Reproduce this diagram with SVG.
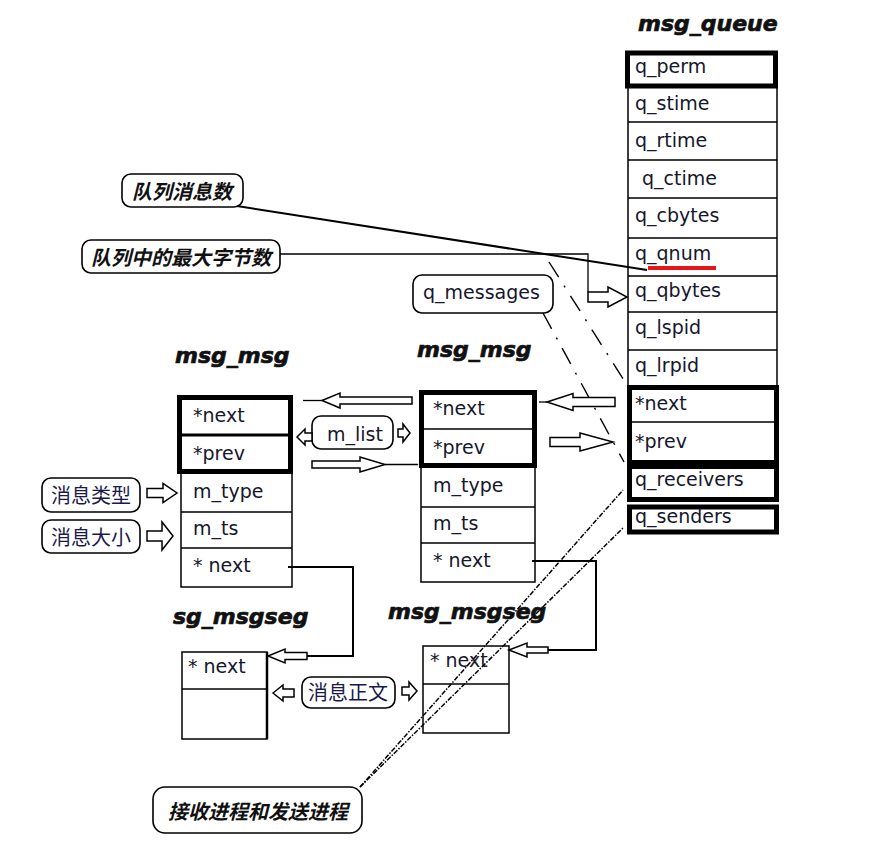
<svg xmlns="http://www.w3.org/2000/svg" width="878" height="860" viewBox="0 0 878 860">
<style>
.t{font-family:"DejaVu Sans",sans-serif;font-size:19px;fill:#16162c}
.ttl{font-family:"DejaVu Sans",sans-serif;font-size:22px;font-weight:bold;font-style:italic;fill:#111;stroke:#111;stroke-width:0.7}
.cn{font-family:"Noto Sans CJK SC",sans-serif;font-size:20px;fill:#1a1a48;text-anchor:middle}
.cni{font-family:"Noto Sans CJK SC",sans-serif;font-size:20px;font-style:italic;font-weight:bold;fill:#111;text-anchor:middle}
.thin{fill:#fff;stroke:#000;stroke-width:1.5}
.row{fill:none;stroke:#000;stroke-width:1.3}
.thick{fill:none;stroke:#000;stroke-width:5}
.call{fill:#fff;stroke:#000;stroke-width:1.6}
.arr{fill:#fff;stroke:#000;stroke-width:1.5}
.ln{fill:none;stroke:#000;stroke-width:2}
.ln1{fill:none;stroke:#000;stroke-width:1.3}
.dash{fill:none;stroke:#000;stroke-width:1.4;stroke-dasharray:18 10 2 10}
.chain{fill:none;stroke:#000;stroke-width:1.5;stroke-dasharray:5 1.5 1.5 1.5}
</style>
<rect width="878" height="860" fill="#fff"/>

<g id="msg_queue">
  <text class="ttl" x="638" y="31">msg_queue</text>
  <rect class="thin" x="628" y="86" width="149" height="300"/>
  <path class="row" d="M628 122H777M628 160H777M628 198H777M628 238H777M628 276H777M628 312H777M628 350H777"/>
  <rect class="thick" x="627.5" y="53" width="148" height="33"/>
  <rect x="648" y="266" width="68" height="4" fill="#e8141c"/>
  <rect class="thick" x="629.5" y="387.5" width="147" height="75"/>
  <line x1="629" y1="422" x2="777" y2="422" stroke="#000" stroke-width="1.5"/>
  <rect class="thick" x="629.5" y="466.5" width="147" height="33"/>
  <rect class="thick" x="629.5" y="507" width="147" height="25"/>
  <text class="t" x="635" y="73">q_perm</text>
  <text class="t" x="635" y="110">q_stime</text>
  <text class="t" x="635" y="147">q_rtime</text>
  <text class="t" x="642" y="185">q_ctime</text>
  <text class="t" x="635" y="222">q_cbytes</text>
  <text class="t" x="635" y="260">q_qnum</text>
  <text class="t" x="635" y="297">q_qbytes</text>
  <text class="t" x="635" y="334">q_lspid</text>
  <text class="t" x="635" y="372">q_lrpid</text>
  <text class="t" x="635" y="410">*next</text>
  <text class="t" x="635" y="448">*prev</text>
  <text class="t" x="635" y="486">q_receivers</text>
  <text class="t" x="635" y="523">q_senders</text>
</g>

<g id="msg_msg_1">
  <text class="ttl" x="175" y="363">msg_msg</text>
  <rect class="thin" x="181" y="473" width="111" height="114"/>
  <path class="row" d="M181 512H292M181 548H292"/>
  <rect class="thick" x="179.5" y="397.5" width="111" height="74"/>
  <line x1="179" y1="435" x2="291" y2="435" stroke="#000" stroke-width="3"/>
  <text class="t" x="193" y="422">*next</text>
  <text class="t" x="193" y="460">*prev</text>
  <text class="t" x="193" y="498">m_type</text>
  <text class="t" x="193" y="535">m_ts</text>
  <text class="t" x="193" y="572">* next</text>
</g>

<g id="msg_msg_2">
  <text class="ttl" x="417" y="357">msg_msg</text>
  <rect class="thin" x="421" y="467" width="114" height="115"/>
  <path class="row" d="M421 507H535M421 543H535"/>
  <rect class="thick" x="421.5" y="392.5" width="113" height="73"/>
  <line x1="421" y1="429" x2="535" y2="429" stroke="#000" stroke-width="1.5"/>
  <text class="t" x="433" y="415">*next</text>
  <text class="t" x="433" y="454">*prev</text>
  <text class="t" x="433" y="492">m_type</text>
  <text class="t" x="433" y="530">m_ts</text>
  <text class="t" x="433" y="567">* next</text>
</g>

<g id="sg_msgseg">
  <text class="ttl" x="173" y="624">sg_msgseg</text>
  <rect class="thin" x="182" y="652" width="85" height="87"/>
  <line x1="182" y1="689" x2="267" y2="689" stroke="#000" stroke-width="1.3"/>
  <line x1="267" y1="652" x2="267" y2="739" stroke="#000" stroke-width="2.5"/>
  <text class="t" x="188" y="673">* next</text>
</g>

<g id="msg_msgseg">
  <text class="ttl" x="388" y="619">msg_msgseg</text>
  <rect class="thin" x="423" y="646" width="86" height="87"/>
  <line x1="423" y1="684" x2="509" y2="684" stroke="#000" stroke-width="1.3"/>
  <text class="t" x="430" y="667">* next</text>
</g>

<g id="label_qnum">
  <rect class="call" x="122" y="174" width="121" height="33" rx="9"/>
  <text class="cni" x="182" y="199">队列消息数</text>
</g>
<g id="label_qbytes">
  <rect class="call" x="82" y="240" width="198" height="33" rx="9"/>
  <text class="cni" x="181" y="265">队列中的最大字节数</text>
</g>
<g id="label_qmessages">
  <rect class="call" x="413" y="275" width="140" height="38" rx="9"/>
  <text class="t" x="423" y="299">q_messages</text>
</g>
<g id="label_mlist">
  <rect class="call" x="312" y="416" width="81" height="33" rx="9"/>
  <text class="t" x="327" y="441">m_list</text>
</g>
<g id="label_type">
  <rect class="call" x="42" y="478" width="98" height="34" rx="9"/>
  <text class="cn" x="91" y="503">消息类型</text>
</g>
<g id="label_size">
  <rect class="call" x="42" y="520" width="98" height="33" rx="9"/>
  <text class="cn" x="91" y="545">消息大小</text>
</g>
<g id="label_body">
  <rect class="call" x="302" y="677" width="93" height="31" rx="9"/>
  <text class="cn" x="348" y="700">消息正文</text>
</g>
<g id="label_procs">
  <rect class="call" x="153" y="787" width="209" height="46" rx="12"/>
  <text class="cni" x="258" y="819">接收进程和发送进程</text>
</g>

<g id="connectors">
  <line class="ln" x1="237" y1="206" x2="647" y2="270"/>
  <polyline class="ln1" points="280,254 588,254 588,292"/>
  <polygon class="arr" points="588,292 608,292 608,287 627,297 608,307 608,302 588,302"/>
  <line class="dash" x1="549" y1="262" x2="627" y2="385"/>
  <line class="dash" x1="543" y1="313" x2="624" y2="462"/>
  <line class="ln1" x1="539" y1="402" x2="547" y2="402"/>
  <polygon class="arr" points="547,402 573,393.5 573,397.5 615,397.5 615,406.5 573,406.5 573,410.5"/>
  <polygon class="arr" points="550,437.5 580,437.5 580,433 613,442 580,451 580,446.5 550,446.5"/>
  <line class="ln1" x1="303" y1="400.5" x2="322" y2="400.5"/>
  <polygon class="arr" points="322,400.5 340,393 340,397 412,397 412,404 340,404 340,408"/>
  <polygon class="arr" points="312,461 360,461 360,457 385,464.5 360,472 360,468 312,468"/>
  <line class="ln1" x1="385" y1="464.5" x2="418" y2="464.5"/>
  <polygon class="arr" points="297,437 305,429 305,433 312,433 312,441 305,441 305,445"/>
  <polygon class="arr" points="398,429 403,429 403,424 410,433 403,442 403,437 398,437"/>
  <polygon class="arr" points="147,488.5 163,488.5 163,483.5 177,493 163,502.5 163,497.5 147,497.5"/>
  <polygon class="arr" points="147,531 162,531 162,522 173,536 162,550 162,541 147,541"/>
  <polyline class="ln" points="288,567 353,567 353,656 307,656"/>
  <polygon class="arr" points="268,656 285,649 285,652.5 307,652.5 307,659.5 285,659.5 285,663"/>
  <polyline class="ln" points="532,561 596,561 596,650 548,650"/>
  <polygon class="arr" points="509,650 527,643 527,647 548,647 548,653 527,653 527,657"/>
  <polygon class="arr" points="273,693 283,685 283,689 294,689 294,697 283,697 283,701"/>
  <polygon class="arr" points="402,687 409,687 409,682 417,691 409,700 409,695 402,695"/>
  <line class="chain" x1="360" y1="787" x2="623" y2="490"/>
  <line class="chain" x1="360" y1="787" x2="623" y2="528"/>
</g>
</svg>
